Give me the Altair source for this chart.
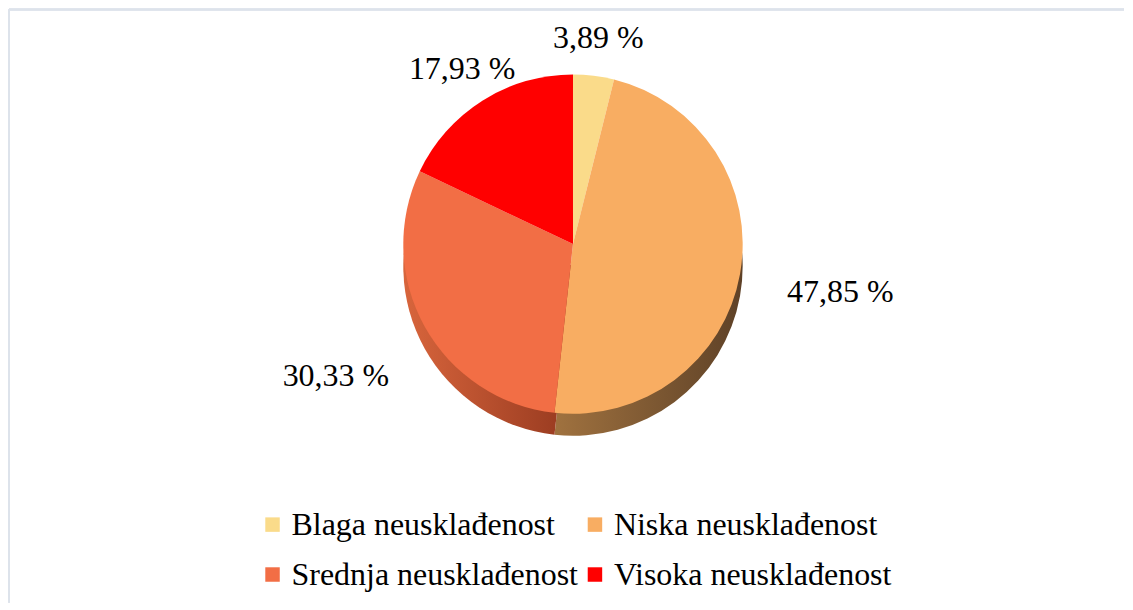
import altair as alt
import pandas as pd

categories = ["Blaga neusklađenost", "Niska neusklađenost",
              "Srednja neusklađenost", "Visoka neusklađenost"]
values = [3.89, 47.85, 30.33, 17.93]
labels = ["3,89 %", "47,85 %", "30,33 %", "17,93 %"]
order = [0, 1, 2, 3]

top_colors = ["#FADB8A", "#F8AD62", "#F26E45", "#FF0000"]

df = pd.DataFrame({"category": categories, "value": values,
                   "label": labels, "order": order})

W, H = 1117, 594
CX, CY = 565, 235
R = 170
DEPTH = 22
FONT = "Times New Roman, Liberation Serif, DejaVu Serif, serif"

base = alt.Chart(df).transform_window(
    cum="sum(value)", frame=[None, 0], sort=[alt.SortField("order")]
).transform_calculate(
    start="datum.cum - datum.value",
    mid="datum.cum - datum.value / 2"
)

theta_scale = alt.Scale(domain=[0, 100], range=[0, 6.283185307179586])

def side(cat, c0, c1):
    grad = alt.Gradient(gradient="linear", x1=0, x2=1, y1=0, y2=0,
                        stops=[alt.GradientStop(color=c0, offset=0),
                               alt.GradientStop(color=c1, offset=1)])
    return base.transform_filter(alt.datum.category == cat).mark_arc(
        outerRadius=R, fill=grad, stroke=None
    ).encode(
        theta=alt.Theta("start:Q", scale=theta_scale),
        theta2="cum:Q",
        x=alt.value(CX), y=alt.value(CY + DEPTH)
    )

side_n = side("Niska neusklađenost", "#A0723F", "#5E4127")
side_s = side("Srednja neusklađenost", "#D8653C", "#96391F")

top = base.mark_arc(outerRadius=R).encode(
    theta=alt.Theta("start:Q", scale=theta_scale),
    theta2="cum:Q",
    color=alt.Color("category:N",
                    scale=alt.Scale(domain=categories, range=top_colors),
                    sort=categories,
                    legend=alt.Legend(
                        title=None, orient="none", legendX=248, legendY=500,
                        direction="horizontal",
                        columns=2, symbolType="square", symbolSize=210,
                        symbolStrokeWidth=0, labelFont=FONT, labelFontSize=32,
                        labelColor="#000000", labelOffset=3, columnPadding=-4,
                        rowPadding=18, labelLimit=400, padding=0)),
    x=alt.value(CX), y=alt.value(CY)
)

def text_layer(cats, rad):
    return base.transform_filter(
        alt.FieldOneOfPredicate(field="category", oneOf=cats)
    ).mark_text(font=FONT, fontSize=32, color="#000000",
                align="center", baseline="middle").encode(
        theta=alt.Theta("mid:Q", scale=theta_scale),
        radius=alt.value(rad),
        text="label:N",
        x=alt.value(CX), y=alt.value(CY)
    )

txt_top = text_layer(["Blaga neusklađenost", "Visoka neusklađenost"], 208)
txt_side = text_layer(["Niska neusklađenost", "Srednja neusklađenost"], 272)

frame_top = alt.Chart(df).mark_rule(color="#DDE3EB", strokeWidth=2).encode(
    x=alt.value(0), x2=alt.value(W), y=alt.value(0))
frame_left = alt.Chart(df).mark_rule(color="#DDE3EB", strokeWidth=2).encode(
    x=alt.value(0), y=alt.value(0), y2=alt.value(H))

chart = alt.layer(frame_top, frame_left, side_n, side_s, top, txt_top, txt_side).properties(
    width=W, height=H, padding=0
).configure_view(stroke=None)

chart.save("out.html", embed_options={"renderer": "svg", "actions": False})
